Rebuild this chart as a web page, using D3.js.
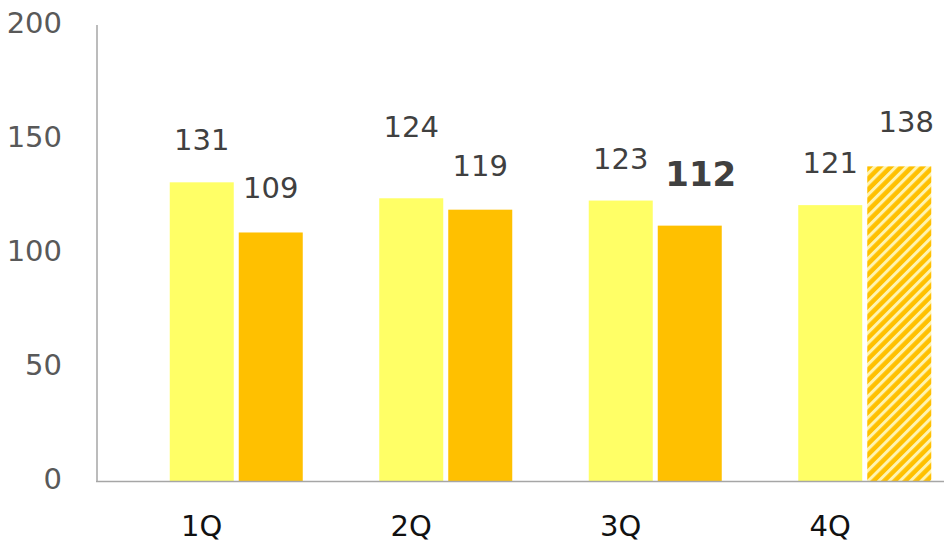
<!DOCTYPE html>
<html>
<head>
<meta charset="utf-8">
<script src="https://cdn.jsdelivr.net/npm/d3@7"></script>
<style>
  html, body { margin: 0; padding: 0; background: #fff; }
  svg { display: block; font-family: "DejaVu Sans", Verdana, sans-serif; }
</style>
</head>
<body>
<div id="container"></div>
<script>
const width = 944, height = 549;

// Data
const quarters = ["1Q", "2Q", "3Q", "4Q"];
const prevYear = [131, 124, 123, 121];
const currYear = [109, 119, 112, 138];
const yTicks = [0, 50, 100, 150, 200];

const colLight = "#FFFF66";
const colDark = "#FFC000";

const svg = d3.select("#container").append("svg")
  .attr("width", width).attr("height", height);

// hatch pattern for the forecast bar (4Q)
const defs = svg.append("defs");
const pat = defs.append("pattern")
  .attr("id", "hatch")
  .attr("patternUnits", "userSpaceOnUse")
  .attr("width", 7.5).attr("height", 7.5)
  .attr("patternTransform", "rotate(45)");
pat.append("rect").attr("width", 7.5).attr("height", 7.5).attr("fill", colDark);
pat.append("rect").attr("x", 0).attr("width", 3).attr("height", 7.5).attr("fill", "#FFF4B0");

// Scales
const y = d3.scaleLinear().domain([0, 200]).range([481, 25]);
const x = d3.scaleBand().domain(quarters).range([97, 935]);
// Excel-like 3 slots per category (first slot empty), so category centre = light bar
const slot = d3.scaleBand().domain([0, 1, 2]).range([-103.5, 103.5]);
const barW = 64;

const barX = (q, s) => x(q) + x.bandwidth() / 2 + slot(s) + (slot.bandwidth() - barW) / 2;

// Bars
svg.append("g").selectAll("rect")
  .data(quarters)
  .join("rect")
  .attr("x", q => barX(q, 1))
  .attr("y", (q, i) => y(prevYear[i]))
  .attr("width", barW)
  .attr("height", (q, i) => y(0) - y(prevYear[i]))
  .attr("fill", colLight);

svg.append("g").selectAll("rect")
  .data(quarters)
  .join("rect")
  .attr("x", q => barX(q, 2))
  .attr("y", (q, i) => y(currYear[i]))
  .attr("width", barW)
  .attr("height", (q, i) => y(0) - y(currYear[i]))
  .attr("fill", (q, i) => i === 3 ? "url(#hatch)" : colDark);

// Axes lines
svg.append("line")
  .attr("x1", 97).attr("x2", 97)
  .attr("y1", y(200)).attr("y2", y(0))
  .attr("stroke", "#A6A6A6").attr("stroke-width", 1.5);
svg.append("line")
  .attr("x1", 96).attr("x2", width)
  .attr("y1", y(0) + 0.5).attr("y2", y(0) + 0.5)
  .attr("stroke", "#A6A6A6").attr("stroke-width", 1.5);

// Y tick labels
svg.append("g").selectAll("text")
  .data(yTicks)
  .join("text")
  .attr("x", 62)
  .attr("y", d => y(d) + 8)
  .attr("text-anchor", "end")
  .attr("fill", "#595959")
  .style("font-size", "29px")
  .text(d => d);

// Category labels
svg.append("g").selectAll("text")
  .data(quarters)
  .join("text")
  .attr("x", q => x(q) + x.bandwidth() / 2)
  .attr("y", 536)
  .attr("text-anchor", "middle")
  .attr("fill", "#111")
  .style("font-size", "29px")
  .text(q => q);

// Value labels (prev year)
svg.append("g").selectAll("text")
  .data(quarters)
  .join("text")
  .attr("x", q => barX(q, 1) + barW / 2)
  .attr("y", (q, i) => y(prevYear[i]) - (i === 1 ? 61 : 32))
  .attr("text-anchor", "middle")
  .attr("fill", "#404040")
  .style("font-size", "29px")
  .text((q, i) => prevYear[i]);

// Value labels (current year); 3Q highlighted in bold
svg.append("g").selectAll("text")
  .data(quarters)
  .join("text")
  .attr("x", (q, i) => barX(q, 2) + barW / 2 + (i === 2 ? 11 : i === 3 ? 7 : 0))
  .attr("y", (q, i) => y(currYear[i]) - (i === 2 ? 40 : 34))
  .attr("text-anchor", "middle")
  .attr("fill", "#404040")
  .style("font-size", (q, i) => i === 2 ? "34px" : "29px")
  .style("font-weight", (q, i) => i === 2 ? "bold" : "normal")
  .text((q, i) => currYear[i]);
</script>
</body>
</html>
